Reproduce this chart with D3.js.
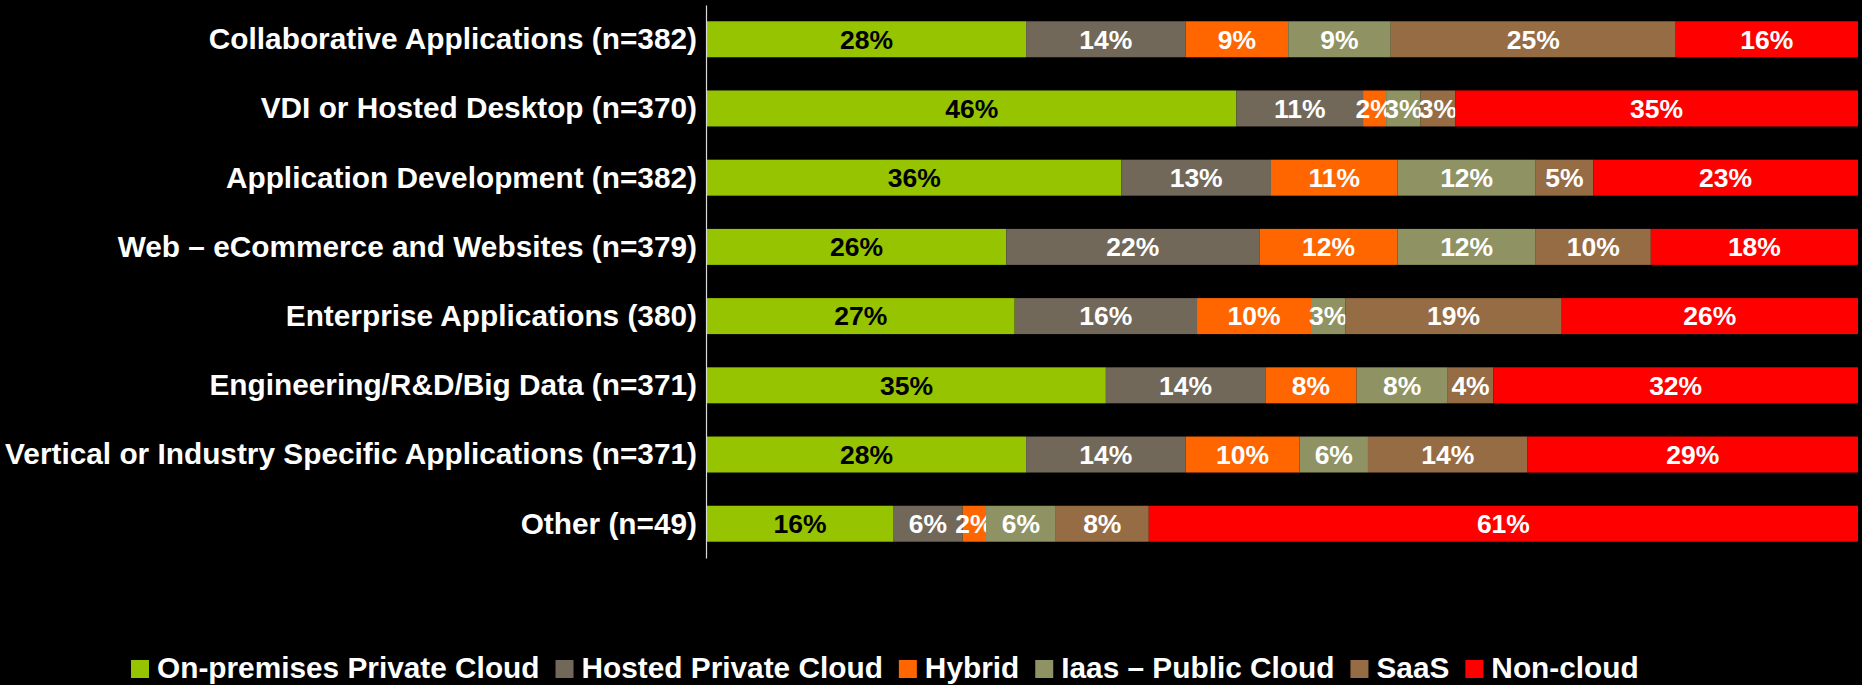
<!DOCTYPE html>
<html>
<head>
<meta charset="utf-8">
<script src="https://cdn.jsdelivr.net/npm/d3@7"></script>
<style>
  body { margin: 0; background: #000; }
  svg { display: block; }
  .axis text { fill: #fff; font-family: "Liberation Sans", Arial, sans-serif; font-weight: bold; font-size: 29.8px; }
  .axis path { stroke: #d9d9d9; stroke-width: 1.2px; }
  .val { font-family: "Liberation Sans", Arial, sans-serif; font-weight: bold; font-size: 26.5px; text-anchor: middle; }
  .legend text { fill: #fff; font-family: "Liberation Sans", Arial, sans-serif; font-weight: bold; font-size: 29.8px; }
</style>
</head>
<body>
<script>
// chart data (percent, rows are rounded so some sum to 99 or 101)
var categories = [
  "Collaborative Applications (n=382)",
  "VDI or Hosted Desktop (n=370)",
  "Application Development (n=382)",
  "Web \u2013  eCommerce and Websites (n=379)",
  "Enterprise Applications (380)",
  "Engineering/R&D/Big Data (n=371)",
  "Vertical or Industry Specific Applications (n=371)",
  "Other (n=49)"
];
var seriesNames = ["On-premises Private Cloud", "Hosted Private Cloud", "Hybrid", "Iaas \u2013  Public Cloud", "SaaS", "Non-cloud"];
var onPremises = [28, 46, 36, 26, 27, 35, 28, 16];
var hostedPrivate = [14, 11, 13, 22, 16, 14, 14, 6];
var hybrid = [9, 2, 11, 12, 10, 8, 10, 2];
var iaasPublic = [9, 3, 12, 12, 3, 8, 6, 6];
var saas = [25, 3, 5, 10, 19, 4, 14, 8];
var nonCloud = [16, 35, 23, 18, 26, 32, 29, 61];

var seriesColors = ["#96c400", "#716859", "#ff6600", "#8f9263", "#966c45", "#ff0000"];

var width = 1862, height = 685;

var svg = d3.select("body").append("svg")
    .attr("width", width)
    .attr("height", height);

// build rows for the stack
var allSeries = [onPremises, hostedPrivate, hybrid, iaasPublic, saas, nonCloud];
var rows = categories.map(function(c, i) {
  var r = {category: c};
  seriesNames.forEach(function(s, j) { r[s] = allSeries[j][i]; });
  return r;
});

// each bar fills the full width, like the original (100% stacked)
var stack = d3.stack()
    .keys(seriesNames)
    .offset(d3.stackOffsetExpand);
var layers = stack(rows);

var xScale = d3.scaleLinear().domain([0, 1]).range([707, 1858]);
var yScale = d3.scaleBand()
    .domain(categories)
    .range([5, 558])
    .paddingInner(0.48)
    .paddingOuter(0.235);

var color = d3.scaleOrdinal().domain(seriesNames).range(seriesColors);

var layer = svg.selectAll(".layer")
    .data(layers)
  .enter().append("g")
    .attr("class", "layer")
    .style("fill", function(d) { return color(d.key); });

layer.selectAll("rect")
    .data(function(d) { return d; })
  .enter().append("rect")
    .attr("x", function(d) { return xScale(d[0]); })
    .attr("y", function(d) { return yScale(d.data.category); })
    .attr("width", function(d) { return xScale(d[1]) - xScale(d[0]); })
    .attr("height", yScale.bandwidth());

// percent labels in the middle of each piece
layer.selectAll("text")
    .data(function(d) { return d.map(function(p) { p.key = d.key; return p; }); })
  .enter().append("text")
    .attr("class", "val")
    .attr("x", function(d) { return (xScale(d[0]) + xScale(d[1])) / 2; })
    .attr("y", function(d) { return yScale(d.data.category) + yScale.bandwidth() / 2; })
    .attr("dy", "0.35em")
    .style("fill", function(d) { return d.key == seriesNames[0] ? "#000" : "#fff"; })
    .text(function(d) { return d.data[d.key] + "%"; });

// y axis, the domain line is the thin grey line left of the bars
svg.append("g")
    .attr("class", "axis")
    .attr("transform", "translate(706,0)")
    .call(d3.axisLeft(yScale).tickSize(0).tickPadding(9))
    .call(function(g) { g.selectAll(".tick text").attr("dy", "0.33em"); });

// legend along the bottom, items placed by text width
var legend = svg.append("g").attr("class", "legend");
var lx = 131;
seriesNames.forEach(function(s) {
  var item = legend.append("g").attr("transform", "translate(" + lx + ",0)");
  item.append("rect")
      .attr("x", 0)
      .attr("y", 660)
      .attr("width", 18)
      .attr("height", 18)
      .style("fill", color(s));
  var t = item.append("text")
      .attr("x", 26)
      .attr("y", 678)
      .text(s);
  lx += 26 + t.node().getComputedTextLength() + 16;
});
</script>
</body>
</html>
